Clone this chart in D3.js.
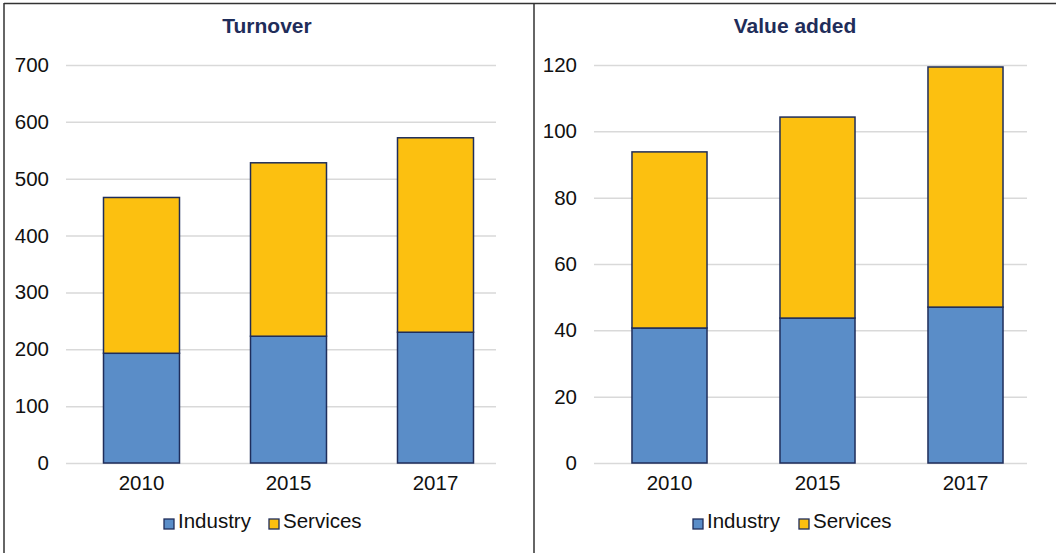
<!DOCTYPE html>
<html><head><meta charset="utf-8">
<script src="https://cdn.jsdelivr.net/npm/d3@7"></script>
<style>body{margin:0;background:#fff}svg{display:block}text{font-family:"Liberation Sans",Arial,sans-serif}</style>
</head><body><svg id="c" width="1056" height="553"></svg>
<script>
const years = ["2010","2015","2017"];
const series = ["Industry","Services"];
const colors = ["#5a8dc8","#fcc010"];
const turnoverIndustry = [193, 223, 230];
const turnoverServices = [274, 305, 342];
const valueIndustry = [40.7, 43.7, 47.0];
const valueServices = [53.1, 60.6, 72.4];
const turnoverTicks = [0,100,200,300,400,500,600,700];
const valueTicks = [0,20,40,60,80,100,120];

const svg = d3.select("#c");
// frame
svg.append("line").attr("x1",4).attr("x2",1056).attr("y1",3.5).attr("y2",3.5).attr("stroke","#333").attr("stroke-width",1.5);
svg.append("line").attr("x1",4).attr("x2",4).attr("y1",3).attr("y2",553).attr("stroke","#333").attr("stroke-width",1.5);
svg.append("line").attr("x1",534).attr("x2",534).attr("y1",3).attr("y2",553).attr("stroke","#333").attr("stroke-width",1.5);

function panel(opts){
  const g = svg.append("g");
  const y = d3.scaleLinear().domain([0, opts.ticks[opts.ticks.length-1]]).range([463, 65]);
  const x = d3.scaleBand().domain(years).range(opts.band).paddingInner(opts.pI).paddingOuter(opts.pI/2);
  g.append("text").attr("x",opts.titleX).attr("y",33).attr("text-anchor","middle")
    .attr("font-weight","bold").attr("font-size",21).attr("fill","#1f2d5a").text(opts.title);
  const ax = g.append("g").attr("transform",`translate(${opts.x0},0)`)
    .call(d3.axisLeft(y).tickValues(opts.ticks).tickSize(-(opts.x1-opts.x0)).tickPadding(17).tickFormat(d3.format("d")));
  ax.select(".domain").remove();
  ax.selectAll(".tick line").attr("stroke","#d9d9d9").attr("stroke-width",1.5);
  ax.selectAll(".tick text").attr("font-size",20.5).attr("fill","#111");
  const data = years.map((yr,i)=>({year:yr, Industry:opts.ind[i], Services:opts.serv[i]}));
  const stack = d3.stack().keys(series)(data);
  stack.forEach((s,si)=>{
    g.append("g").selectAll("rect").data(s).join("rect")
      .attr("x",d=>x(d.data.year)).attr("width",x.bandwidth())
      .attr("y",d=>y(d[1])).attr("height",d=>y(d[0])-y(d[1]))
      .attr("fill",colors[si]).attr("stroke","#1f2d5a").attr("stroke-width",1.5);
  });
  const xa = g.append("g").attr("transform","translate(0,463)").call(d3.axisBottom(x).tickSize(0).tickPadding(12));
  xa.select(".domain").remove();
  xa.selectAll(".tick text").attr("font-size",20.5).attr("fill","#111");
  // legend
  const lg = g.append("g").attr("transform",`translate(${opts.legX},519)`);
  const items = [{n:"Industry",dx:0},{n:"Services",dx:opts.legGap}];
  items.forEach((it,i)=>{
    lg.append("rect").attr("x",it.dx).attr("y",0).attr("width",10).attr("height",10)
      .attr("fill",colors[i]).attr("stroke","#1f2d5a").attr("stroke-width",1.3);
    lg.append("text").attr("x",it.dx+14).attr("y",8.5).attr("font-size",20.5).attr("fill","#111").text(it.n);
  });
}
panel({title:"Turnover",titleX:267,x0:66,x1:496,band:[68,509],pI:0.483,ticks:turnoverTicks,ind:turnoverIndustry,serv:turnoverServices,legX:164,legGap:105});
panel({title:"Value added",titleX:795,x0:594,x1:1027,band:[595.5,1039.5],pI:0.493,ticks:valueTicks,ind:valueIndustry,serv:valueServices,legX:693,legGap:106});
</script></body></html>
